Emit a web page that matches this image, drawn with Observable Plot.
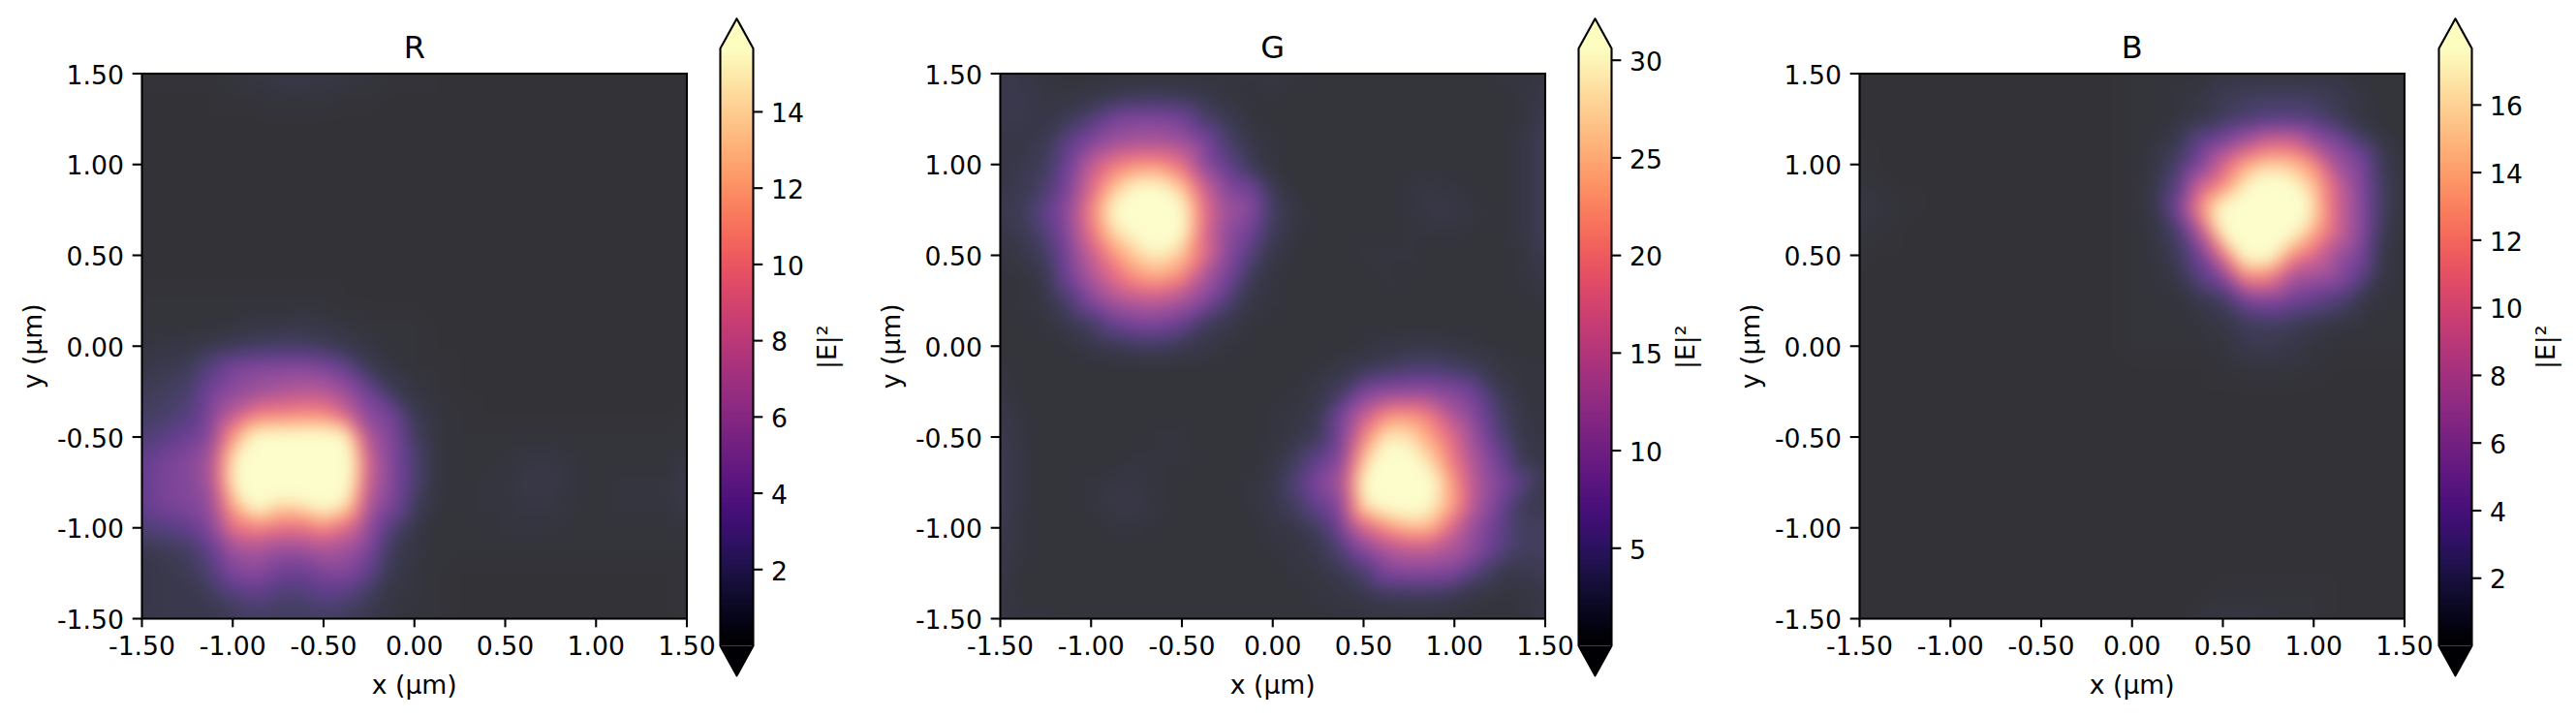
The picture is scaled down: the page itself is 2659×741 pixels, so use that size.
<!DOCTYPE html>
<html>
<head>
<meta charset="utf-8">
<script src="https://cdn.jsdelivr.net/npm/d3@7"></script>
<script src="https://cdn.jsdelivr.net/npm/@observablehq/plot@0.6"></script>
<style>
html,body{margin:0;padding:0;background:#fff;overflow:hidden}
#fig{position:relative;width:2659px;height:741px;background:#fff;overflow:hidden}
#fig>div{position:absolute;top:0}
#fig svg{max-width:none}
</style>
</head>
<body>
<div id="fig"></div>
<script>
// sample positions in micrometres
const xGrid = [-1.5,-1.375,-1.25,-1.125,-1,-0.875,-0.75,-0.625,-0.5,-0.375,-0.25,-0.125,0,0.125,0.25,0.375,0.5,0.625,0.75,0.875,1,1.125,1.25,1.375,1.5];
const yGrid = [1.5,1.375,1.25,1.125,1,0.875,0.75,0.625,0.5,0.375,0.25,0.125,0,-0.125,-0.25,-0.375,-0.5,-0.625,-0.75,-0.875,-1,-1.125,-1.25,-1.375,-1.5];
const axisTicks = [-1.5,-1,-0.5,0,0.5,1,1.5];

// colour limits of |E|²
const rLimit = 15.66, gLimit = 30.6, bLimit = 17.67;
const rTicks = [2,4,6,8,10,12,14];
const gTicks = [5,10,15,20,25,30];
const bTicks = [2,4,6,8,10,12,14,16];

// |E|² as percent of the colour limit, rows top to bottom, columns left to right
const rPercent = [
[2,2,2,2,3,4,5,6,5,4,3,2,2,1,1,1,1,1,1,1,1,1,1,1,1],
[1,1,1,1,2,2,3,3,3,2,2,1,1,1,1,1,1,1,1,1,1,1,1,1,1],
[1,1,1,1,1,1,1,1,1,1,1,1,1,1,1,1,1,1,1,1,1,1,1,1,1],
[1,1,1,1,1,1,1,1,1,1,1,1,1,1,1,1,1,1,1,1,1,1,1,1,1],
[1,1,1,1,1,1,1,1,1,1,1,1,1,1,1,1,1,1,1,1,1,1,1,1,1],
[1,1,1,1,1,1,1,1,1,1,1,1,1,1,1,1,1,1,1,1,1,1,1,1,1],
[1,1,1,1,1,1,1,1,1,1,1,1,1,1,1,1,1,1,1,1,1,1,1,1,1],
[1,1,1,1,1,1,1,1,1,1,1,1,1,1,1,1,1,1,1,1,1,1,1,1,1],
[1,1,1,1,1,1,1,1,1,1,1,1,1,1,1,1,1,1,1,1,1,1,1,1,1],
[1,1,1,1,1,1,1,1,1,1,1,1,1,1,1,1,1,1,1,1,1,1,1,1,1],
[2,2,2,2,2,2,2,2,2,1,1,1,1,1,1,1,1,1,1,1,1,1,1,1,1],
[2,2,2,2,3,4,4,5,4,3,2,2,2,1,1,1,1,1,1,1,1,1,1,1,1],
[3,4,4,6,8,10,11,11,9,6,4,2,2,1,1,1,1,1,1,1,1,1,1,1,1],
[5,7,8,17,28,31,32,32,30,22,8,4,2,2,1,1,1,1,1,1,1,1,1,1,1],
[8,10,12,26,33,38,42,46,46,37,24,8,4,2,1,1,1,1,1,1,1,1,1,1,1],
[10,12,16,28,48,66,68,70,70,55,32,26,7,3,2,1,1,1,1,1,1,1,1,1,2],
[14,18,24,31,74,102,104,105,105,100,43,30,10,3,2,2,2,2,2,2,2,2,2,2,2],
[20,27,30,40,93,120,125,125,125,115,52,30,14,3,2,2,3,4,4,3,2,2,2,2,4],
[20,28,30,40,95,120,115,120,125,110,50,30,14,3,2,3,3,5,5,3,2,3,3,3,6],
[20,27,29,35,80,105,90,92,105,92,42,28,10,3,2,3,3,4,4,3,2,3,3,3,5],
[14,17,20,30,62,68,62,62,70,58,34,15,5,2,2,2,3,3,3,2,2,2,2,2,3],
[6,8,10,20,38,42,36,36,42,38,28,8,4,2,2,2,2,2,2,2,2,2,2,2,2],
[5,6,8,14,28,32,24,22,28,30,20,6,3,2,1,1,1,1,1,1,1,1,1,1,2],
[5,6,6,8,14,18,14,14,18,16,9,4,3,2,1,1,1,1,1,1,1,1,1,1,2],
[6,6,6,6,8,10,9,9,10,8,5,3,2,2,1,1,1,1,1,1,1,1,1,1,1]
];
const gPercent = [
[6,5,3,2,2,2,2,2,2,2,3,3,4,3,2,2,2,2,2,2,2,2,3,3,4],
[6,6,4,4,5,7,8,8,7,5,3,2,3,2,2,2,2,2,2,2,2,2,2,3,5],
[6,6,5,8,15,27,29,29,26,12,7,3,2,2,2,2,2,2,2,2,2,2,2,3,7],
[5,5,7,20,30,38,42,42,38,29,12,5,3,2,2,2,2,2,2,2,2,2,2,4,9],
[5,6,9,25,50,65,72,72,60,32,20,8,3,2,2,2,2,2,2,2,2,2,2,4,9],
[5,7,12,28,58,85,100,100,85,52,30,25,7,2,2,2,2,2,3,4,3,2,2,4,9],
[6,9,20,34,68,100,120,120,102,60,38,33,10,4,2,2,2,2,3,5,5,3,2,4,9],
[5,7,16,32,62,90,102,115,102,58,33,25,8,3,2,2,2,2,3,3,3,2,2,4,9],
[3,5,10,28,50,72,88,96,85,60,32,16,5,2,2,2,3,3,3,2,2,2,2,3,7],
[2,3,6,25,42,58,72,77,68,42,27,8,3,2,2,2,2,3,2,2,2,2,2,3,5],
[2,3,4,12,30,42,47,48,42,32,15,5,3,2,2,2,2,2,2,2,2,2,2,2,3],
[2,2,3,6,10,22,28,28,22,10,6,3,2,2,2,2,2,2,2,2,2,2,2,2,2],
[2,2,2,3,5,7,9,9,7,5,3,2,2,2,2,2,3,4,5,5,4,3,2,2,2],
[3,2,2,2,2,2,2,2,2,2,2,2,2,2,3,5,7,10,13,14,11,8,4,3,3],
[4,2,2,2,2,2,2,2,2,2,2,2,2,3,5,10,28,33,34,34,30,22,7,3,3],
[6,3,2,2,2,2,2,2,2,2,2,2,3,4,7,27,50,70,72,63,42,28,12,4,3],
[7,3,2,2,2,2,2,3,3,2,2,2,3,5,8,28,68,95,92,75,57,34,15,5,4],
[8,3,2,2,2,2,3,3,3,2,2,2,4,10,20,32,85,110,105,88,62,40,24,6,4],
[8,3,2,2,3,4,4,3,2,2,2,3,5,15,30,40,100,125,120,105,72,42,30,18,5],
[8,3,2,2,3,5,5,3,2,2,2,3,5,10,22,32,92,105,110,98,75,42,24,8,7],
[7,3,2,2,2,3,3,2,2,2,2,2,4,5,10,26,55,72,82,80,55,33,20,10,10],
[6,3,2,2,2,2,2,2,2,2,2,2,3,4,6,14,30,42,48,48,42,32,18,10,10],
[5,2,2,2,2,2,2,2,2,2,2,2,2,3,4,6,12,28,30,30,28,14,6,6,8],
[4,2,2,2,2,2,2,2,2,2,2,2,2,2,3,4,5,7,8,8,6,4,3,3,5],
[4,3,3,2,2,2,2,2,2,2,2,2,2,2,2,3,3,3,3,3,3,2,2,3,6]
];
const bPercent = [
[1,1,1,1,1,1,1,1,1,1,1,1,2,2,2,2,3,3,3,3,3,3,2,2,2],
[1,1,1,1,1,1,1,1,1,1,1,1,2,2,3,4,8,9,10,10,9,7,4,2,2],
[1,1,1,1,1,1,1,1,1,1,1,1,2,2,3,5,9,13,17,17,16,9,4,2,2],
[1,1,1,1,1,1,1,1,1,1,1,1,2,3,6,20,28,42,55,55,38,30,14,5,2],
[2,1,1,1,1,1,1,1,1,1,1,1,2,4,12,28,55,78,88,85,72,40,30,7,2],
[3,2,1,1,1,1,1,1,1,1,1,1,2,5,17,55,72,97,112,105,85,55,32,10,2],
[5,3,2,1,1,1,1,1,1,1,1,1,2,5,26,70,105,125,135,130,90,55,33,10,2],
[3,2,1,1,1,1,1,1,1,1,1,1,2,4,12,45,98,120,135,102,78,55,33,8,2],
[2,1,1,1,1,1,1,1,1,1,1,1,2,3,9,25,62,105,105,72,58,38,28,5,2],
[1,1,1,1,1,1,1,1,1,1,1,1,2,3,5,18,30,68,66,42,38,34,20,4,2],
[1,1,1,1,1,1,1,1,1,1,1,1,2,2,3,6,10,26,30,24,20,14,6,3,2],
[1,1,1,1,1,1,1,1,1,1,1,1,2,2,2,3,5,9,10,9,6,4,3,2,2],
[1,1,1,1,1,1,1,1,1,1,1,1,2,2,2,2,3,6,7,5,3,2,2,2,2],
[1,1,1,1,1,1,1,1,1,1,1,1,1,1,1,1,2,3,3,3,2,1,1,1,1],
[1,1,1,1,1,1,1,1,1,1,1,1,1,1,1,1,1,1,1,1,1,1,1,1,1],
[1,1,1,1,1,1,1,1,1,1,1,1,1,1,1,1,1,1,1,1,1,1,1,1,1],
[1,1,1,1,1,1,1,1,1,1,1,1,1,1,1,1,1,1,1,1,1,1,1,1,1],
[1,1,1,1,1,1,1,1,1,1,1,1,1,1,1,1,1,1,1,1,1,1,1,1,1],
[1,1,1,1,1,1,1,1,1,1,1,1,1,1,1,1,1,1,1,1,1,1,1,1,1],
[1,1,1,1,1,1,1,1,1,1,1,1,1,1,1,1,1,1,1,1,1,1,1,1,1],
[1,1,1,1,1,1,1,1,1,1,1,1,1,1,1,1,1,1,1,1,1,1,1,1,1],
[1,1,1,1,1,1,1,1,1,1,1,1,1,1,1,1,1,1,1,1,1,1,1,1,1],
[1,1,1,1,1,1,1,1,1,1,1,1,1,1,1,1,1,1,1,1,1,1,1,1,1],
[1,1,1,1,1,1,1,1,1,1,1,1,1,1,1,1,2,2,2,2,2,1,1,1,1],
[1,1,1,1,1,1,1,1,1,1,1,1,1,1,1,3,4,4,3,2,2,1,1,1,1]
];

const panels = [
  {name:"R", percent:rPercent, limit:rLimit, ticks:rTicks, left:0,      barLeft:743.4},
  {name:"G", percent:gPercent, limit:gLimit, ticks:gTicks, left:885.7,  barLeft:1629.4},
  {name:"B", percent:bPercent, limit:bLimit, ticks:bTicks, left:1773,   barLeft:2516.6}
];

const font = {fontFamily:"'DejaVu Sans'", fontSize:"26.67px", color:"#000", background:"transparent", overflow:"visible"};
const fig = document.getElementById("fig");
const place = (svg, left) => {
  const d = document.createElement("div");
  d.style.left = left + "px";
  d.appendChild(svg);
  fig.appendChild(d);
};
const yTickMarks = ticks => Plot.axisY(ticks, {anchor:"left", label:null, tickSize:9.3, strokeWidth:2.1, strokeOpacity:1, tickFormat:()=>""});

for (const p of panels) {
  const table = p.percent.flatMap((row, i) => row.map((c, k) => ({x:xGrid[k], y:yGrid[i], v:c / 100 * p.limit})));
  const heat = Plot.plot({
    width:748.5, height:741, marginLeft:146, marginRight:40, marginTop:75.5, marginBottom:103,
    style:font,
    x:{domain:[-1.5,1.5]},
    y:{domain:[-1.5,1.5]},
    color:{type:"linear", scheme:"magma", domain:[0,p.limit], clamp:true},
    marks:[
      Plot.raster(table, {x:"x", y:"y", fill:"v", interpolate:"barycentric", x1:-1.5, x2:1.5, y1:-1.5, y2:1.5, pixelSize:1, blur:7, opacity:0.8}),
      Plot.frame({stroke:"#000", strokeWidth:2.1}),
      Plot.axisX(axisTicks, {anchor:"bottom", label:null, tickSize:9.3, tickPadding:9.3, strokeWidth:2.1, strokeOpacity:1, fontSize:26.67, tickFormat:d=>d.toFixed(2)}),
      yTickMarks(axisTicks),
      Plot.axisY(axisTicks, {anchor:"left", label:null, tickSize:0, tickPadding:18.6, dy:2.2, fontSize:26.67, tickFormat:d=>d.toFixed(2)}),
      Plot.text([p.name], {frameAnchor:"top", dy:-26, lineAnchor:"middle", textAnchor:"middle", fontSize:32, fill:"#000"}),
      Plot.text(["x (µm)"], {frameAnchor:"bottom", dy:68.5, lineAnchor:"middle", textAnchor:"middle", fontSize:26.67, fill:"#000"}),
      Plot.text(["y (µm)"], {frameAnchor:"left", dx:-111.6, rotate:-90, lineAnchor:"middle", textAnchor:"middle", fontSize:26.67, fill:"#000"})
    ]
  });
  place(heat, p.left);

  const ext = p.limit * 0.05;
  const lo = [[0,0],[0.5,-ext],[1,0]];
  const hi = [[0,p.limit],[0.5,p.limit+ext],[1,p.limit]];
  const outline = [[0,0],[0.5,-ext],[1,0],[1,p.limit],[0.5,p.limit+ext],[0,p.limit],[0,0]];
  const bar = Plot.plot({
    width:164, height:741, marginLeft:4, marginRight:126, marginTop:49.6, marginBottom:75,
    style:font,
    x:{domain:[0,1], axis:null},
    y:{domain:[0,p.limit]},
    color:{type:"linear", scheme:"magma", domain:[0,p.limit], clamp:true},
    marks:[
      Plot.raster({fill:(x,y)=>y, x1:0, x2:1, y1:0, y2:p.limit, pixelSize:1}),
      Plot.line(lo, {fill:"#000004", stroke:"none"}),
      Plot.line(hi, {fill:"#fcfdbf", stroke:"none"}),
      Plot.line(outline, {stroke:"#000", strokeWidth:2.1}),
      Plot.axisY(p.ticks, {anchor:"right", label:null, tickSize:9.3, strokeWidth:2.1, strokeOpacity:1, tickFormat:()=>""}),
      Plot.axisY(p.ticks, {anchor:"right", label:null, tickSize:0, tickPadding:18.6, dy:2.2, fontSize:26.67, tickFormat:d=>String(d)}),
      Plot.text(["|E|²"], {frameAnchor:"right", dx:76.7, rotate:-90, lineAnchor:"middle", textAnchor:"middle", fontSize:26.67, fill:"#000"})
    ]
  });
  place(bar, p.barLeft - 4);
}
</script>
</body>
</html>
